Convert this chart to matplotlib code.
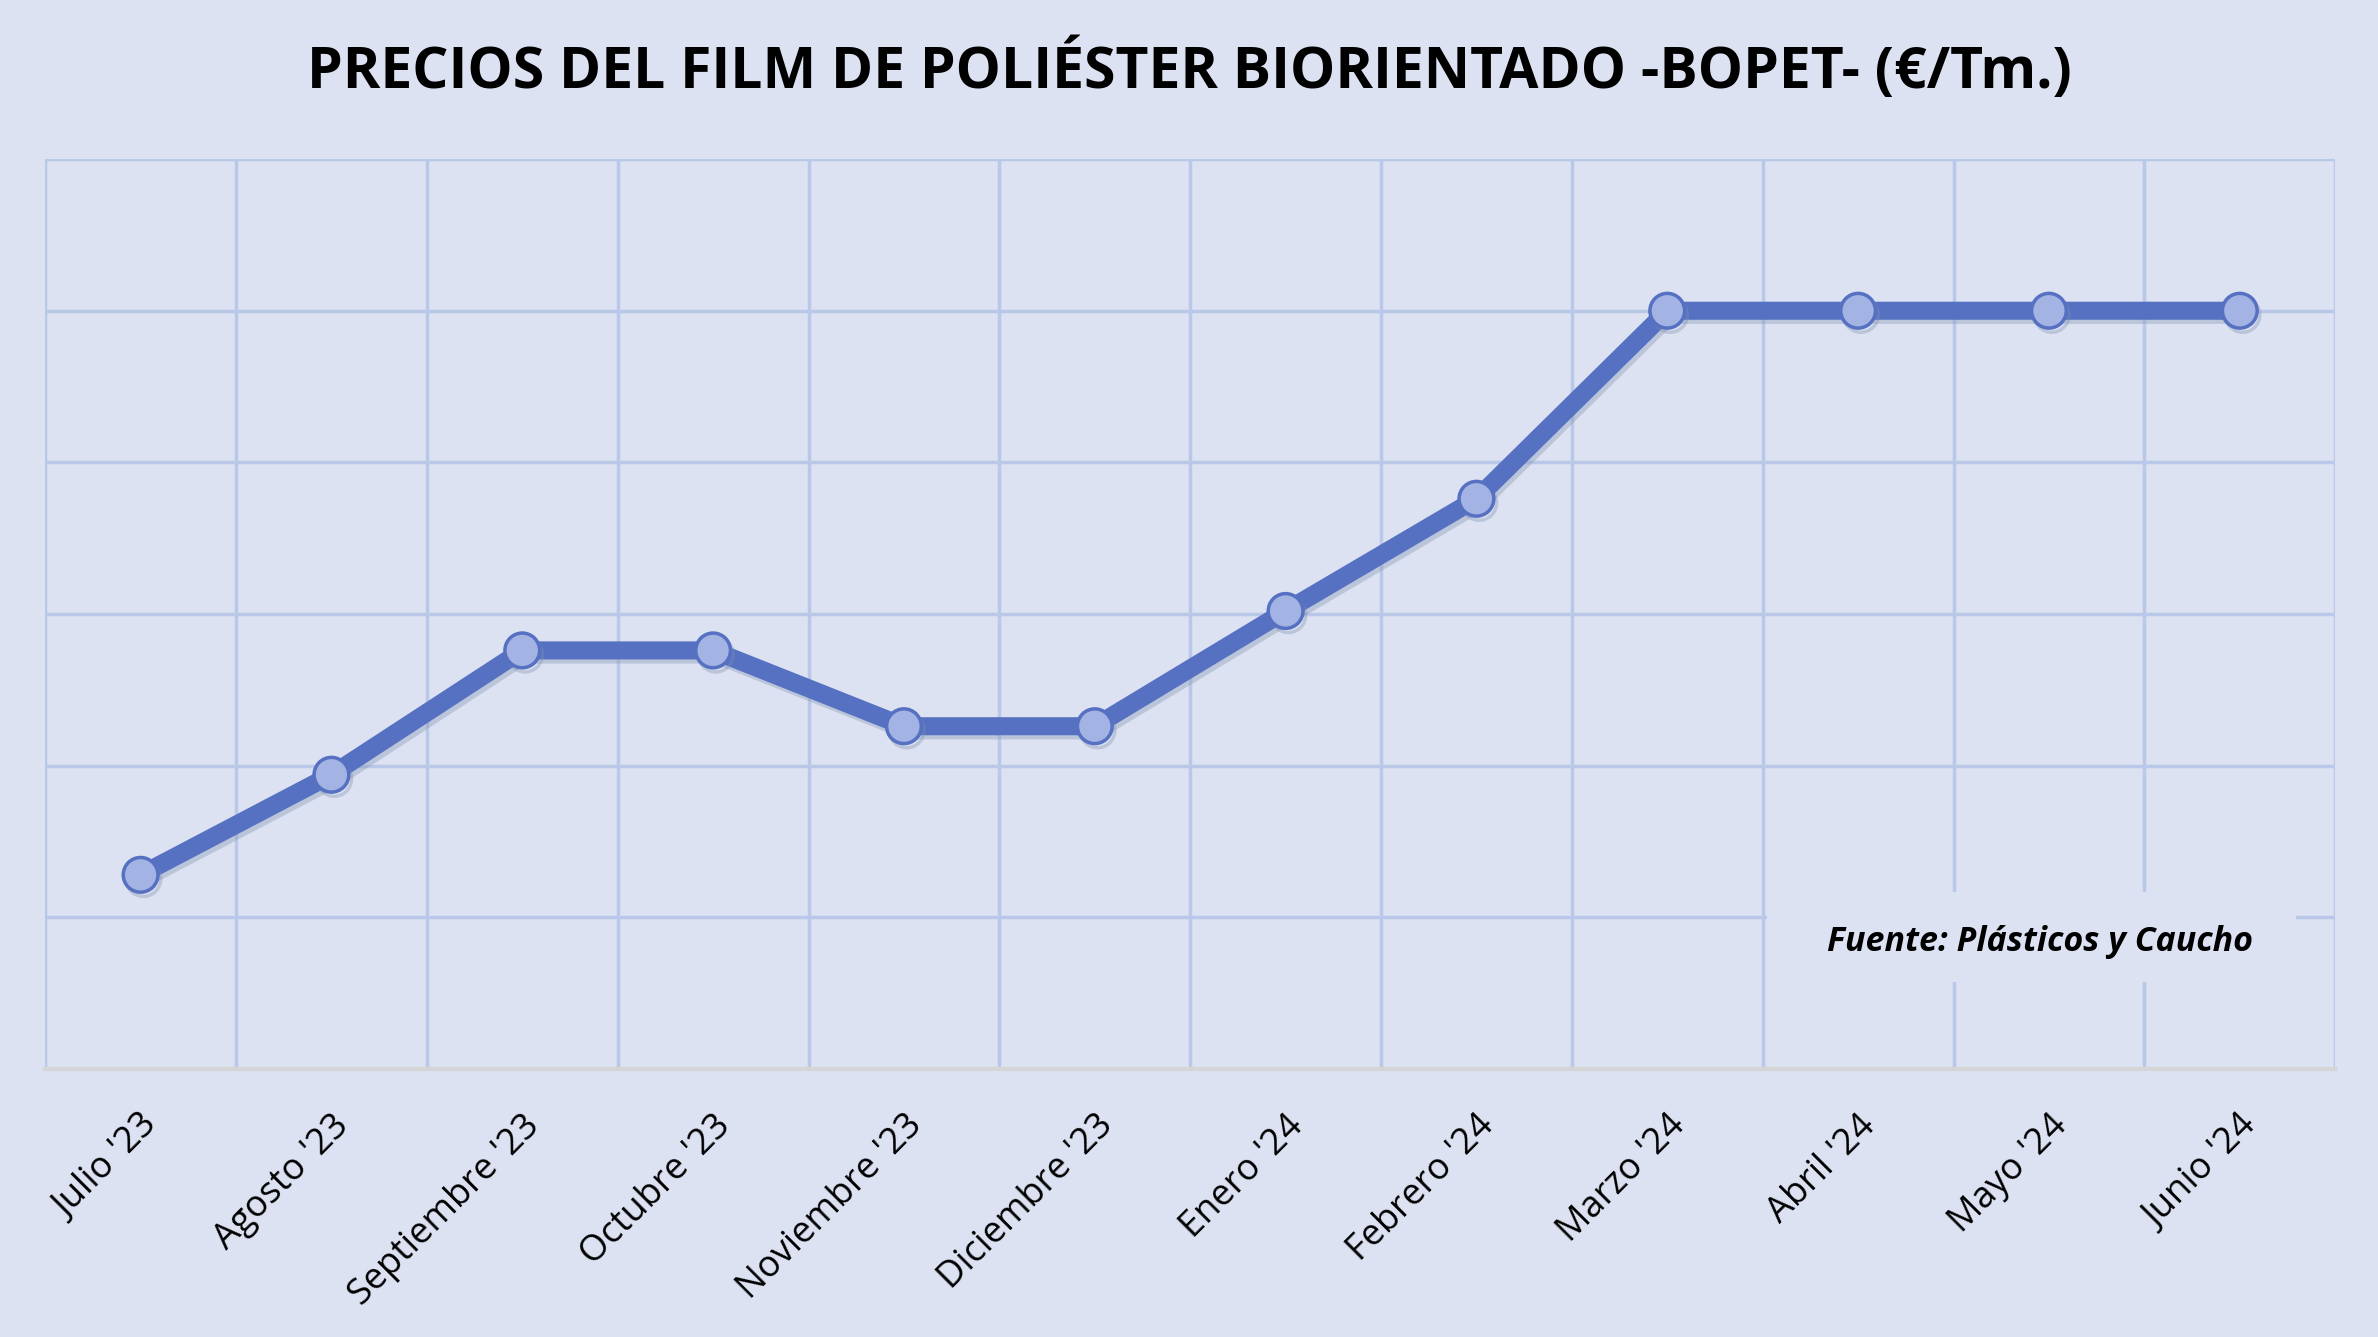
import matplotlib
matplotlib.use("Agg")
import matplotlib.pyplot as plt
import matplotlib.patheffects as pe
from matplotlib.patches import Rectangle
from matplotlib.ticker import MultipleLocator

# datos (€/Tm)
meses = ["Julio '23", "Agosto '23", "Septiembre '23", "Octubre '23", "Noviembre '23",
         "Diciembre '23", "Enero '24", "Febrero '24", "Marzo '24", "Abril '24",
         "Mayo '24", "Junio '24"]
precios = [1564, 1597, 1638, 1638, 1613, 1613, 1651, 1688, 1750, 1750, 1750, 1750]

fondo = "#DCE2F2"
rejilla = "#B9C8E8"
linea = "#5670C2"

fig = plt.figure(figsize=(23.78, 13.37), dpi=100, facecolor=fondo)
ax = fig.add_axes([0.019, 0.2005, 0.963, 0.6805])
ax.set_facecolor(fondo)

x = list(range(len(meses)))
ax.plot(x, precios, color=linea, lw=13, marker="o", markersize=25,
        markerfacecolor="#A3B3E3", markeredgecolor=linea, markeredgewidth=2.5,
        solid_capstyle="round", zorder=5,
        path_effects=[pe.SimpleLineShadow(offset=(2, -3), shadow_color="#8090b0", alpha=0.35),
                      pe.Normal()])

ax.set_xlim(-0.5, len(meses) - 0.5)
ax.set_ylim(1500, 1800)
ax.yaxis.set_major_locator(MultipleLocator(50))
ax.set_yticklabels([])
ax.tick_params(axis="y", length=0)
ax.set_xticks(x)
ax.set_xticks([i - 0.5 for i in range(len(meses) + 1)], minor=True)
ax.set_xticklabels(meses, rotation=45, ha="right", va="top", rotation_mode="anchor",
                   fontsize=26, family="Open Sans")
ax.tick_params(axis="x", which="both", length=0, pad=28)

ax.grid(True, axis="y", which="major", color=rejilla, lw=2.5)
ax.grid(True, axis="x", which="minor", color=rejilla, lw=2.5)
ax.grid(False, axis="x", which="major")
for s in ["top", "right", "left"]:
    ax.spines[s].set_visible(False)
ax.spines["bottom"].set_color("#D5D5D8")
ax.spines["bottom"].set_linewidth(3)

# recuadro de la fuente
ax.add_patch(Rectangle((0.752, 0.095), 0.231, 0.1, transform=ax.transAxes,
                       facecolor=fondo, edgecolor="none", zorder=3))
ax.text(0.871, 0.14, "Fuente: Plásticos y Caucho", transform=ax.transAxes,
        ha="center", va="center", fontsize=24.5, fontweight="bold", fontstyle="italic",
        family="Open Sans", zorder=4)

fig.text(0.5, 0.947, "PRECIOS DEL FILM DE POLIÉSTER BIORIENTADO -BOPET- (€/Tm.)",
         ha="center", va="center", fontsize=41, fontweight="bold", family="Open Sans")

fig.savefig("out.png", dpi=100, facecolor=fondo)
